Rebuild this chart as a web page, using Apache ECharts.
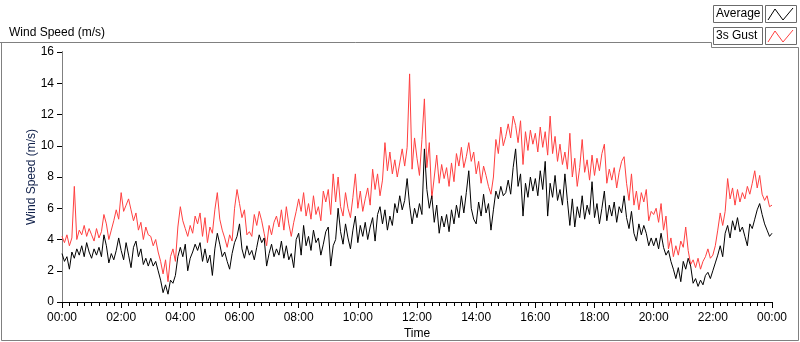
<!DOCTYPE html>
<html>
<head>
<meta charset="utf-8">
<script src="https://cdn.jsdelivr.net/npm/echarts@6/dist/echarts.min.js"></script>
<style>
  html, body { margin: 0; padding: 0; background: #fff; }
  #main { width: 800px; height: 342px; }
</style>
</head>
<body>
<div id="main"></div>
<script>
// samples every 5 minutes, 00:00 .. 24:00 (one row per hour)
const stepMinutes = 5

const average = [
    3.1, 2.6, 2.9, 2.1, 3.2, 2.8, 3.4, 3.0, 3.6, 2.9, 3.8, 3.2,
    2.8, 3.4, 3.0, 3.5, 2.9, 4.3, 3.6, 2.5, 3.1, 2.7, 3.3, 4.1,
    3.3, 2.7, 3.8, 3.0, 2.2, 3.5, 3.9, 2.9, 3.4, 2.4, 2.8, 2.3,
    2.8, 2.3, 2.6, 2.0, 1.4, 0.6, 1.1, 0.5, 1.4, 1.2, 1.7, 2.9,
    3.5, 2.9, 3.7, 2.0, 2.8, 3.2, 3.7, 3.3, 3.8, 2.6, 3.4, 2.5,
    3.0, 1.7, 3.4, 4.4, 3.7, 2.9, 3.2, 2.6, 2.1, 3.1, 3.8, 4.2,
    5.0, 3.4, 2.8, 3.6, 3.0, 3.3, 2.7, 3.5, 4.3, 3.8, 4.1, 2.3,
    3.1, 3.7, 2.9, 3.4, 3.0, 3.9, 2.8, 3.6, 2.7, 3.1, 2.2, 4.0,
    4.4, 3.0, 4.9, 3.6, 4.2, 3.3, 4.6, 3.8, 4.1, 3.0, 3.7, 4.5,
    4.8, 2.3, 3.6, 4.0, 6.0, 4.5, 3.7, 5.0, 4.1, 3.4, 4.6, 5.5,
    3.8, 4.9, 4.2, 5.1, 4.0, 4.8, 5.4, 3.9, 5.6, 6.1, 5.0, 5.9,
    4.6, 5.5, 4.9, 6.3, 5.7, 6.8, 5.9, 6.5, 7.9, 6.2, 5.0, 6.0,
    5.4, 6.3, 5.6, 9.8, 7.2, 6.0, 6.8, 5.1, 6.2, 4.4, 5.5, 4.8,
    5.6, 4.5, 5.9, 5.0, 6.2, 5.4, 6.8, 5.7, 7.0, 8.4, 6.0, 5.3,
    5.0, 6.4, 5.5, 6.9, 5.7, 6.3, 4.6, 5.9, 7.1, 6.6, 7.4, 6.8,
    7.0, 7.8, 6.9, 8.6, 9.8, 7.4, 8.2, 5.5, 7.6, 6.7, 8.0, 7.1,
    7.9, 6.8, 8.4, 7.2, 9.0, 5.5, 7.6, 6.7, 8.1, 6.5, 7.2, 6.2,
    8.2, 6.5, 4.9, 6.6, 4.8, 6.1, 5.4, 6.8, 5.3, 6.2, 5.6, 7.7,
    5.4, 6.3, 5.0, 6.0, 7.1, 5.2, 6.2, 5.5, 6.4, 5.1, 6.1, 5.7,
    6.8, 5.4, 4.7, 5.8, 4.4, 3.9, 5.0, 4.3, 4.9, 4.4, 3.6, 4.1,
    3.6, 4.1, 3.4, 4.4, 3.5, 3.0, 3.3, 2.6, 2.1, 1.5, 2.2, 1.3,
    2.6, 2.1, 2.8, 2.3, 1.2, 1.5, 1.0, 1.4, 1.1, 1.7, 1.9, 1.5,
    2.0, 2.5, 3.0, 3.6, 2.9, 4.4, 4.9, 4.1, 5.2, 4.6, 5.4, 4.5,
    4.8, 4.2, 3.6, 5.0, 4.7, 5.3, 5.9, 6.3, 5.6, 5.0, 4.6, 4.2,
    4.4
]

const gust = [
    4.2, 3.8, 4.3, 3.6, 4.1, 7.4, 4.0, 4.6, 4.3, 4.9, 4.2, 4.7,
    4.3, 3.9, 4.7, 4.1, 4.5, 5.6, 5.0, 4.0, 4.6, 5.2, 5.9, 5.3,
    7.0, 5.8, 6.2, 6.6, 5.9, 5.2, 5.7, 4.6, 5.1, 4.0, 4.8, 4.3,
    4.2, 3.6, 4.0, 3.2, 2.6, 1.8, 2.7, 1.3, 2.9, 3.4, 2.6, 4.8,
    6.1, 5.2, 4.7, 4.2, 4.9, 4.4, 5.5, 5.0, 5.7, 4.2, 5.4, 3.8,
    4.8, 4.4, 5.9, 7.0, 5.3, 4.6, 4.1, 3.5, 4.3, 3.9, 6.0, 7.2,
    6.3, 5.4, 5.9, 4.3, 4.5, 4.2, 5.6, 4.9, 5.8, 5.2, 4.4, 3.6,
    4.9, 4.3, 5.1, 5.5, 4.8, 5.9, 4.6, 6.1, 5.0, 4.2, 5.1, 5.8,
    6.6, 5.8, 7.0, 5.5, 6.3, 5.3, 6.8, 5.6, 6.1, 5.2, 7.1, 6.4,
    7.2, 5.6, 8.2, 6.4, 8.0, 6.1, 5.5, 7.0, 6.0, 5.4, 6.7, 8.2,
    6.0, 7.1, 5.8, 6.6, 7.3, 6.2, 8.5, 7.2, 8.2, 6.8, 7.8, 10.2,
    8.4, 9.6, 8.2, 9.1, 8.0, 8.9, 9.8, 8.7, 9.9, 14.6, 8.5, 10.5,
    9.2, 8.1, 10.4, 13.0, 8.6, 10.2, 6.6, 8.0, 9.4, 7.6, 8.8, 7.9,
    8.6, 7.4, 8.9, 7.7, 9.5, 8.7, 9.9, 8.6, 9.3, 10.2, 9.0, 9.6,
    8.2, 9.0, 7.6, 8.7, 8.1, 7.4, 6.9, 8.0, 10.4, 9.5, 11.2, 10.0,
    10.6, 11.4, 10.5, 11.9, 11.3, 10.2, 11.6, 8.8, 10.9, 9.7, 11.0, 10.1,
    10.8, 9.6, 11.2, 9.9, 10.9, 9.4, 11.9, 9.5, 10.6, 9.0, 10.1, 8.8,
    9.6, 8.5, 10.8, 8.0, 9.2, 7.4, 8.6, 10.4, 8.3, 9.1, 7.8, 9.4,
    8.1, 9.2, 8.4, 9.5, 10.1, 7.6, 8.5, 7.8, 8.6, 7.3, 8.3, 9.0,
    9.3, 7.6, 6.5, 8.2, 6.2, 7.1, 5.9, 7.0, 6.4, 7.2, 5.2, 5.8,
    5.6, 6.0, 5.1, 6.3, 4.6, 5.5, 3.4, 4.1, 2.9, 3.6, 3.0, 3.9,
    3.5, 4.8, 3.3, 2.4, 2.7, 2.2, 2.8, 2.1, 2.6, 2.9, 3.4, 2.8,
    3.0, 3.6, 4.6, 5.7, 4.9, 5.8, 7.9, 6.6, 7.3, 6.2, 7.2, 6.4,
    7.0, 6.6, 7.4, 6.9, 7.6, 8.4, 7.3, 8.1, 6.9, 6.5, 6.8, 6.1,
    6.2
]

const seriesNames = ['Average', '3s Gust']
const seriesColors = ['#000000', '#ff4040']

const toPairs = arr => arr.map((v, i) => [i * stepMinutes, v])

const fmtTime = v => {
    const h = Math.floor(v / 60) % 24
    return (h < 10 ? '0' : '') + h + ':00'
}

const font = 'Liberation Sans'

const legendItem = (y, name, color) => [
    {
        type: 'rect',
        shape: { x: 713.5, y: y + 0.5, width: 49, height: 17 },
        style: { fill: '#fff', stroke: '#6b6b6b', lineWidth: 1 },
    },
    {
        type: 'text',
        x: 716,
        y: y + 3,
        style: { text: name, font: '12px ' + font, fill: '#000' },
    },
    {
        type: 'rect',
        shape: { x: 765.5, y: y + 0.5, width: 31, height: 17 },
        style: { fill: '#fff', stroke: '#6b6b6b', lineWidth: 1 },
    },
    {
        type: 'polyline',
        shape: {
            points: [[768, y + 15], [775, y + 4], [783, y + 15], [793, y + 3]],
        },
        style: { stroke: color, lineWidth: 1, fill: null },
    },
]

const chart = echarts.init(document.getElementById('main'))

chart.setOption({
    animation: false,
    backgroundColor: '#fff',
    textStyle: { fontFamily: font },
    title: {
        text: 'Wind Speed (m/s)',
        left: 4,
        top: 22,
        textStyle: { fontSize: 12, fontWeight: 'normal', color: '#000', fontFamily: font },
    },
    grid: { left: 62, right: 28, top: 52, bottom: 40, outerBoundsMode: 'none' },
    xAxis: [
        {
            type: 'value',
            min: 0,
            max: 1440,
            interval: 120,
            name: 'Time',
            nameLocation: 'middle',
            nameGap: 26,
            nameMoveOverlap: false,
            nameTextStyle: { fontSize: 12, color: '#000' },
            axisLine: { lineStyle: { color: '#808080', width: 1 } },
            axisTick: { length: 6, lineStyle: { color: '#000' } },
            minorTick: { show: true, splitNumber: 8, length: 4, lineStyle: { color: '#000' } },
            axisLabel: { formatter: fmtTime, fontSize: 12, color: '#000', margin: 10 },
            splitLine: { show: false },
        },
        {
            type: 'value',
            position: 'top',
            min: 0,
            max: 1440,
            axisLine: { show: true, lineStyle: { color: '#000' } },
            axisTick: { show: false },
            axisLabel: { show: false },
            splitLine: { show: false },
        },
    ],
    yAxis: [
        {
            type: 'value',
            min: 0,
            max: 16,
            interval: 2,
            name: 'Wind Speed (m/s)',
            nameLocation: 'middle',
            nameGap: 24,
            nameMoveOverlap: false,
            nameTextStyle: { fontSize: 12, color: '#10204a' },
            axisLine: { show: true, lineStyle: { color: '#000' } },
            axisTick: { show: true, length: 5, lineStyle: { color: '#000' } },
            axisLabel: { fontSize: 12, color: '#000', margin: 8 },
            splitLine: { show: false },
        },
        {
            type: 'value',
            position: 'right',
            min: 0,
            max: 16,
            axisLine: { show: true, lineStyle: { color: '#808080' } },
            axisTick: { show: false },
            axisLabel: { show: false },
            splitLine: { show: false },
        },
    ],
    graphic: [
        {
            type: 'polyline',
            shape: { points: [[0, 42.5], [711.5, 42.5], [711.5, 47.5], [798.5, 47.5], [798.5, 340.5], [1.5, 340.5], [1.5, 42.5]] },
            style: { stroke: '#808080', lineWidth: 1, fill: null },
        },
        ...legendItem(5, seriesNames[0], seriesColors[0]),
        ...legendItem(27, seriesNames[1], seriesColors[1]),
    ],
    series: [
        {
            name: seriesNames[1],
            type: 'line',
            data: toPairs(gust),
            showSymbol: false,
            symbol: 'none',
            lineStyle: { color: seriesColors[1], width: 1 },
        },
        {
            name: seriesNames[0],
            type: 'line',
            data: toPairs(average),
            showSymbol: false,
            symbol: 'none',
            lineStyle: { color: seriesColors[0], width: 1 },
        },
    ],
})
</script>
</body>
</html>
